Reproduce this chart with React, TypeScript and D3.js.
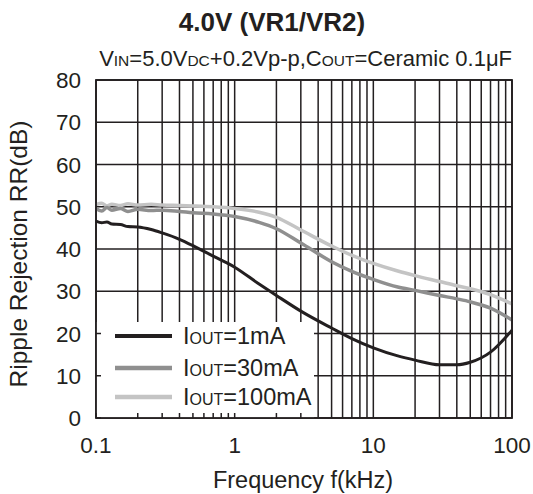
import React from 'react';
import * as d3 from 'd3';

const freqs = [0.1, 0.11, 0.12, 0.13, 0.15, 0.17, 0.2, 0.25, 0.3, 0.4, 0.5, 0.7, 1, 1.5, 2, 3, 5, 7, 10, 15, 20, 30, 40, 50, 70, 100];
const rr1mA = [46.6, 46.2, 46.4, 45.9, 45.8, 45.3, 45.2, 44.6, 43.8, 42.3, 40.8, 38.3, 35.7, 31.7, 29.0, 25.3, 21.3, 18.8, 16.6, 14.7, 13.7, 12.6, 12.6, 13.2, 15.6, 20.8];
const rr30mA = [49.6, 49.0, 49.8, 49.2, 49.6, 48.9, 49.4, 49.1, 49.2, 48.9, 48.6, 48.3, 47.7, 46.3, 44.8, 41.4, 37.0, 34.7, 32.8, 31.0, 30.2, 29.0, 28.2, 27.5, 26.0, 23.2];
const rr100mA = [50.5, 50.8, 50.2, 50.6, 50.3, 50.7, 50.4, 50.6, 50.4, 50.3, 50.2, 50.0, 49.6, 48.7, 47.5, 44.5, 40.7, 38.5, 36.6, 34.8, 33.7, 32.3, 31.3, 30.6, 29.2, 27.0];

const yTicks = [0, 10, 20, 30, 40, 50, 60, 70, 80];
const xTickLabels = ['0.1', '1', '10', '100'];
const legendCurrents = ['1mA', '30mA', '100mA'];
const seriesColors = ['#231f20', '#8f8f8f', '#c4c4c4'];

const W = 533;
const H = 494;
const margin = { top: 80, right: 21, bottom: 76, left: 96 };
const FONT = '"Liberation Sans", Arial, sans-serif';
const INK = '#231f20';

const App: React.FC = () => {
  const x = d3.scaleLog().domain([0.1, 100]).range([margin.left, W - margin.right]);
  const y = d3.scaleLinear().domain([0, 80]).range([H - margin.bottom, margin.top]);

  // every 1..9 in each decade
  const gridX: number[] = [];
  for (let e = -1; e < 2; e++) {
    for (let m = 1; m < 10; m++) gridX.push(m * Math.pow(10, e));
  }
  gridX.push(100);

  const series = [rr1mA, rr30mA, rr100mA];
  const line = d3.line<number>()
    .x((_, i) => x(freqs[i]))
    .y(d => y(d))
    .curve(d3.curveMonotoneX);

  const x0 = x.range()[0];
  const x1 = x.range()[1];
  const y0 = y.range()[0];
  const y1 = y.range()[1];

  const legendBox = { x: x0, y: 322, w: 218, h: y0 - 322 };
  const legendRows = [336, 368, 397];

  return (
    <svg width={W} height={H} style={{ position: 'absolute', left: 0, top: 0, background: '#fff' }} fontFamily={FONT}>
      <text x={272} y={31} textAnchor="middle" fontSize={26} fontWeight="bold" fill={INK}>4.0V (VR1/VR2)</text>
      <text x={x1} y={66} textAnchor="end" fontSize={22} fill={INK}>
        V<tspan fontSize={15.5}>IN</tspan>=5.0V<tspan fontSize={15.5}>DC</tspan>+0.2Vp-p,C<tspan fontSize={15.5}>OUT</tspan>=Ceramic 0.1μF
      </text>

      {/* grid */}
      <g stroke={INK} strokeWidth={1.5}>
        {yTicks.map(t => (
          <line key={'h' + t} x1={x0} x2={x1} y1={y(t)} y2={y(t)} />
        ))}
        {gridX.map(f => (
          <line key={'v' + f} x1={x(f)} x2={x(f)} y1={y0} y2={y1} />
        ))}
      </g>

      {/* curves */}
      {series.map((s, i) => (
        <path key={i} d={line(s) || ''} fill="none" stroke={seriesColors[i]} strokeWidth={i === 0 ? 3 : 3.5} strokeLinejoin="round" />
      )).reverse()}

      {/* legend */}
      <rect x={legendBox.x} y={legendBox.y} width={legendBox.w} height={legendBox.h} fill="#fff" />
      <g stroke={INK} strokeWidth={1.5}>
        {gridX.filter(f => x(f) < legendBox.x + legendBox.w).map(f => (
          <line key={'bt' + f} x1={x(f)} x2={x(f)} y1={y0} y2={y0 - 5} />
        ))}
        {yTicks.filter(t => y(t) > legendBox.y).map(t => (
          <line key={'lt' + t} x1={x0} x2={x0 + 5} y1={y(t)} y2={y(t)} />
        ))}
      </g>
      {legendCurrents.map((c, i) => (
        <g key={c}>
          <line x1={115} x2={172} y1={legendRows[i]} y2={legendRows[i]} stroke={seriesColors[i]} strokeWidth={i === 0 ? 4 : 4.5} />
          <text x={183} y={legendRows[i] + 8} fontSize={23.5} fill={INK}>
            I<tspan fontSize={16}>OUT</tspan>={c}
          </text>
        </g>
      ))}

      {/* frame */}
      <rect x={x0} y={y1} width={x1 - x0} height={y0 - y1} fill="none" stroke={INK} strokeWidth={1.8} />

      {/* axes labels */}
      {yTicks.map(t => (
        <text key={'yl' + t} x={81} y={y(t) + 8} textAnchor="end" fontSize={22.5} fill={INK}>{t}</text>
      ))}
      {xTickLabels.map(l => (
        <text key={'xl' + l} x={x(+l)} y={453} textAnchor="middle" fontSize={22.5} fill={INK}>{l}</text>
      ))}
      <text x={303} y={488} textAnchor="middle" fontSize={23.5} fill={INK}>Frequency f(kHz)</text>
      <text transform={`translate(27,254) rotate(-90)`} textAnchor="middle" fontSize={24.5} fill={INK}>Ripple Rejection RR(dB)</text>
    </svg>
  );
};

export default App;
